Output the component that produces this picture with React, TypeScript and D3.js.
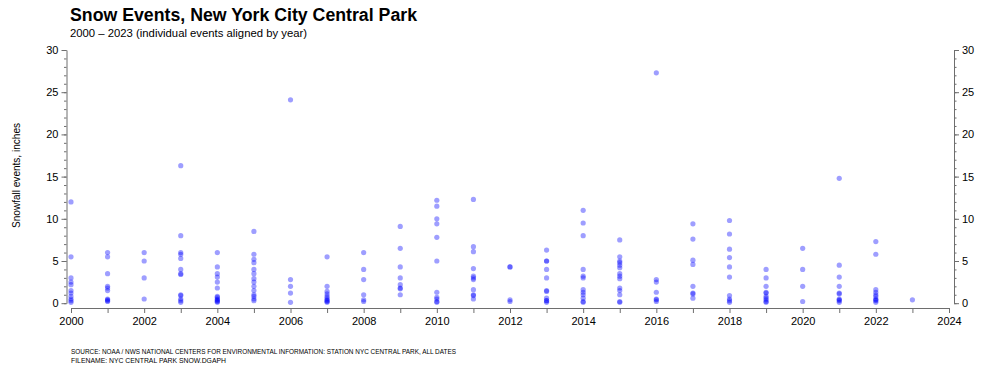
import React, { useRef, useEffect } from 'react';
import * as d3 from 'd3';

// one column of snow events per year (inches per event)
const years = [
  2000, 2001, 2002, 2003, 2004, 2005, 2006, 2007, 2008, 2009, 2010, 2011,
  2012, 2013, 2014, 2015, 2016, 2017, 2018, 2019, 2020, 2021, 2022, 2023,
];

const snowfall: number[][] = [
  [12.0, 5.5, 3.0, 2.5, 2.2, 1.5, 1.2, 0.8, 0.5, 0.3, 0.1],
  [6.0, 5.5, 3.5, 2.0, 1.8, 1.5, 0.5, 0.3, 0.2, 0.4],
  [6.0, 5.0, 3.0, 0.5],
  [16.3, 8.0, 6.0, 5.8, 5.3, 4.0, 3.5, 3.4, 1.0, 0.9, 0.5, 0.3, 0.1],
  [6.0, 4.3, 3.5, 3.1, 2.5, 1.8, 0.8, 0.7, 0.5, 0.4, 0.3, 0.2, 0.1],
  [8.5, 5.8, 5.2, 4.8, 4.0, 3.5, 2.9, 2.5, 2.0, 1.5, 1.0, 0.8, 0.5, 0.3],
  [24.1, 2.8, 2.0, 1.2, 0.1],
  [5.5, 2.0, 1.4, 1.1, 0.8, 0.6, 0.4, 0.3, 0.1, 0.2],
  [6.0, 4.0, 2.8, 1.0, 0.4, 0.2],
  [9.1, 6.5, 4.3, 3.0, 2.2, 1.8, 1.7, 1.0],
  [12.2, 11.5, 10.0, 9.4, 7.8, 5.0, 1.3, 0.7, 0.5, 0.1, 0.2],
  [12.3, 6.7, 6.1, 4.1, 3.2, 3.0, 2.8, 1.6, 1.0, 0.9, 0.5],
  [4.3, 4.3, 0.4, 0.2],
  [6.3, 5.0, 5.0, 4.0, 3.0, 1.5, 1.4, 0.6, 0.3, 0.3, 0.1],
  [11.0, 9.5, 8.0, 4.0, 3.2, 3.0, 1.6, 1.3, 1.0, 0.6, 0.2, 0.1],
  [7.5, 5.5, 5.0, 4.8, 4.5, 4.2, 3.5, 3.2, 2.9, 1.8, 1.5, 1.0, 0.2, 0.1],
  [27.3, 2.8, 2.5, 1.3, 0.5, 0.4, 0.2],
  [9.4, 7.6, 5.1, 4.6, 2.0, 1.2, 1.1, 0.6],
  [9.8, 8.2, 6.4, 5.4, 4.3, 3.1, 0.9, 0.5, 0.3, 0.1],
  [4.0, 3.0, 2.0, 1.3, 1.2, 0.8, 0.6, 0.4, 0.2, 0.1],
  [6.5, 4.0, 2.0, 0.2],
  [14.8, 4.5, 3.1, 2.0, 1.2, 1.1, 0.5, 0.4, 0.3, 0.1],
  [7.3, 5.8, 1.6, 1.3, 1.0, 0.8, 0.5, 0.4, 0.3, 0.1],
  [0.4],
];

const yMajorTicks = [0, 5, 10, 15, 20, 25, 30];
const xLabelYears = [2000, 2002, 2004, 2006, 2008, 2010, 2012, 2014, 2016, 2018, 2020, 2022, 2024];

const FONT = "'Liberation Sans', Arial, Helvetica, sans-serif";

export default function App() {
  const svgRef = useRef<SVGSVGElement>(null);

  useEffect(() => {
    if (!svgRef.current) return;
    const svg = d3.select(svgRef.current);
    svg.selectAll('*').remove();

    const x = d3.scaleLinear().domain([2000, 2024]).range([71, 949]);
    const y = d3.scaleLinear().domain([0, 30]).range([303.2, 50]);

    const axisColor = '#6e6e6e';

    // y axes: minor ticks then major ticks with labels
    const drawY = (left: boolean, xPos: number) => {
      const mk = left ? d3.axisLeft : d3.axisRight;
      svg.append('g')
        .attr('transform', `translate(${xPos},0)`)
        .attr('color', axisColor)
        .call(mk(y).tickValues(d3.range(0, 31)).tickSize(2.5).tickSizeOuter(0).tickFormat(() => ''))
        .call(g => g.select('.domain').remove());
      const g = svg.append('g')
        .attr('transform', `translate(${xPos},0)`)
        .attr('color', axisColor)
        .call(mk(y).tickValues(yMajorTicks).tickSize(5).tickSizeOuter(0).tickPadding(3));
      g.selectAll('text')
        .attr('fill', '#000')
        .style('font-family', FONT)
        .style('font-size', '11px');
    };
    drawY(true, 66.5);
    drawY(false, 954);

    // x axis
    const gx = svg.append('g')
      .attr('transform', 'translate(0,308)')
      .attr('color', axisColor)
      .call(d3.axisBottom(x)
        .tickValues(d3.range(2000, 2025))
        .tickSize(5)
        .tickSizeOuter(0)
        .tickPadding(4)
        .tickFormat(d => (xLabelYears.includes(+d) ? String(d) : '')));
    gx.selectAll('text')
      .attr('fill', '#000')
      .style('font-family', FONT)
      .style('font-size', '11px');

    // dots
    const points = years.flatMap((yr, i) => snowfall[i].map(v => ({ yr, v })));
    svg.append('g')
      .selectAll('circle')
      .data(points)
      .enter()
      .append('circle')
      .attr('cx', d => x(d.yr))
      .attr('cy', d => y(d.v))
      .attr('r', 2.6)
      .attr('fill', '#0000ff')
      .attr('fill-opacity', 0.38);

    // titles
    svg.append('text')
      .attr('x', 70).attr('y', 21)
      .attr('textLength', 347).attr('lengthAdjust', 'spacingAndGlyphs')
      .style('font-family', FONT).style('font-weight', 'bold').style('font-size', '18px')
      .text('Snow Events, New York City Central Park');
    svg.append('text')
      .attr('x', 70).attr('y', 37)
      .attr('textLength', 237).attr('lengthAdjust', 'spacingAndGlyphs')
      .style('font-family', FONT).style('font-size', '11.5px')
      .text('2000 \u2013 2023 (individual events aligned by year)');

    svg.append('text')
      .attr('transform', 'translate(19.5,175.5) rotate(-90)')
      .attr('text-anchor', 'middle')
      .attr('textLength', 105).attr('lengthAdjust', 'spacingAndGlyphs')
      .style('font-family', FONT).style('font-size', '11px')
      .text('Snowfall events, inches');

    svg.append('text')
      .attr('x', 71).attr('y', 354)
      .attr('textLength', 385).attr('lengthAdjust', 'spacingAndGlyphs')
      .style('font-family', FONT).style('font-size', '7px')
      .text('SOURCE: NOAA / NWS NATIONAL CENTERS FOR ENVIRONMENTAL INFORMATION: STATION NYC CENTRAL PARK, ALL DATES');
    svg.append('text')
      .attr('x', 71).attr('y', 362.7)
      .attr('textLength', 155).attr('lengthAdjust', 'spacingAndGlyphs')
      .style('font-family', FONT).style('font-size', '7px')
      .text('FILENAME: NYC CENTRAL PARK SNOW.DGAPH');
  }, []);

  return (
    <svg
      ref={svgRef}
      width={1000}
      height={375}
      style={{ position: 'absolute', left: 0, top: 0, background: '#fff' }}
    />
  );
}
